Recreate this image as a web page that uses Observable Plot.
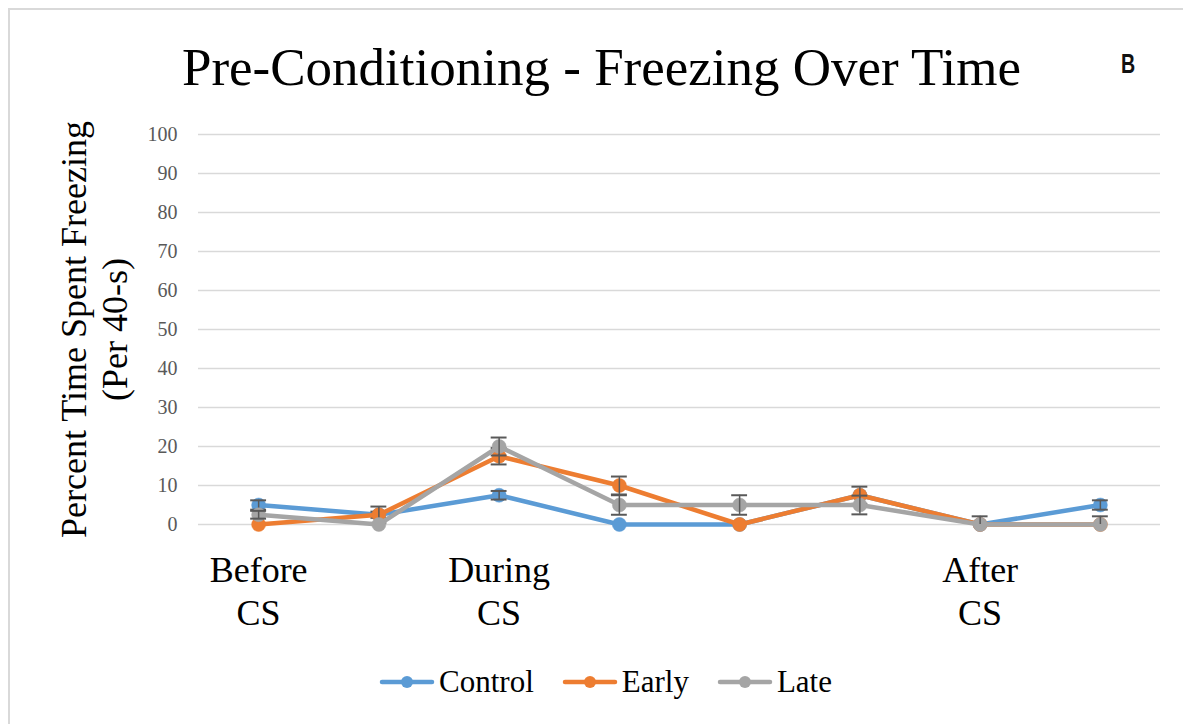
<!DOCTYPE html>
<html><head><meta charset="utf-8">
<script src="https://cdn.jsdelivr.net/npm/d3@7"></script>
<script src="https://cdn.jsdelivr.net/npm/@observablehq/plot@0.6"></script>
<style>
html,body{margin:0;padding:0;background:#fff;}
#chart{position:relative;width:1183px;height:724px;overflow:hidden;background:#fff;font-family:"Liberation Serif","Times New Roman",serif;}
#frame{position:absolute;left:8px;top:8px;width:1300px;height:900px;border-top:2px solid #d9d9d9;border-left:2px solid #d9d9d9;}
#title{position:absolute;left:0;top:41px;width:1183px;box-sizing:border-box;padding-left:20px;text-align:center;font-size:53px;line-height:53px;color:#000;white-space:nowrap;}
#panel{position:absolute;left:1121px;top:50px;font-family:"Liberation Sans",Arial,sans-serif;font-weight:bold;font-size:28px;line-height:28px;color:#111;transform:scaleX(0.7);transform-origin:left center;}
#plot{position:absolute;left:0;top:0;}
#plot svg text{font-family:"Liberation Serif","Times New Roman",serif;}
#legend{position:absolute;left:0;top:662px;width:1183px;height:40px;box-sizing:border-box;padding-left:28px;display:flex;justify-content:center;align-items:center;}
.item{display:flex;align-items:center;margin:0 14px;}
.item span{font-size:31px;line-height:40px;color:#000;margin-left:4px;}
</style>
</head><body>
<div id="chart">
  <div id="frame"></div>
  <div id="plot"></div>
  <div id="title">Pre-Conditioning - Freezing Over Time</div>
  <div id="panel">B</div>
  <div id="legend"></div>
</div>
<script>
// ---- data ----
const xIndex = [1, 2, 3, 4, 5, 6, 7, 8];
const xLabels = ["Before\nCS", "", "During\nCS", "", "", "", "After\nCS", ""];
const yTicks = [0, 10, 20, 30, 40, 50, 60, 70, 80, 90, 100];
const seriesNames = ["Control", "Early", "Late"];
const seriesColors = ["#5B9BD5", "#ED7D31", "#A5A5A5"];
const controlValues = [5, 2.5, 7.5, 0, 0, 7.5, 0, 5];
const earlyValues = [0, 2.5, 17.5, 10, 0, 7.5, 0, 0];
const lateValues = [2.5, 0, 20, 5, 5, 5, 0, 0];
const controlErr = [1.2, 0.8, 1.1, 0, 0, 0, 0, 1.2];
const earlyErr = [0, 2.1, 2.1, 2.3, 0, 2.2, 0, 0];
const lateErr = [1.0, 0, 2.3, 2.5, 2.5, 2.4, 2.1, 2.1];
const yLabel = "Percent Time Spent Freezing\n(Per 40-s)";

const serif = "'Liberation Serif','Times New Roman',serif";
const seriesValues = [controlValues, earlyValues, lateValues];
const seriesErrs = [controlErr, earlyErr, lateErr];
const capHalf = 0.066;
const errColor = "#595959";

const marks = [
  Plot.gridY(yTicks, {stroke: "#d9d9d9", strokeOpacity: 1, strokeWidth: 1.3}),
  Plot.axisY(yTicks, {tickSize: 0, tickPadding: 21, fontSize: 20, fontFamily: serif, color: "#595959", label: null}),
  Plot.axisX(xIndex, {tickSize: 0, tickPadding: 27, fontSize: 36, fontFamily: serif, lineHeight: 1.19,
    tickFormat: i => xLabels[i - 1], label: null, color: "#000"}),
  Plot.text([yLabel], {frameAnchor: "left", textAnchor: "middle", lineAnchor: "middle", rotate: -90, dx: -105,
    fontSize: 36, fontFamily: serif, lineHeight: 1.14, fill: "#000"})
];

seriesNames.forEach((name, s) => {
  const rows = xIndex.map((x, i) => ({series: name, x, y: seriesValues[s][i], e: seriesErrs[s][i]}));
  const errRows = rows.filter(d => d.e > 0);
  const color = seriesColors[s];
  marks.push(Plot.line(rows, {x: "x", y: "y", stroke: color, strokeWidth: 4.5, strokeLinejoin: "round", strokeLinecap: "round"}));
  marks.push(Plot.dot(rows, {x: "x", y: "y", r: 7, fill: color, stroke: color, strokeWidth: 0.5}));
  marks.push(Plot.ruleX(errRows, {x: "x", y1: d => Math.max(0, d.y - d.e), y2: d => d.y + d.e, stroke: errColor, strokeWidth: 1.5}));
  marks.push(Plot.ruleY(errRows, {y: d => d.y + d.e, x1: d => d.x - capHalf, x2: d => d.x + capHalf, stroke: errColor, strokeWidth: 2}));
  marks.push(Plot.ruleY(errRows.filter(d => d.y - d.e >= 0), {y: d => d.y - d.e, x1: d => d.x - capHalf, x2: d => d.x + capHalf, stroke: errColor, strokeWidth: 2}));
});

const chart = Plot.plot({
  width: 1183,
  height: 724,
  marginLeft: 198,
  marginRight: 23,
  marginTop: 134,
  marginBottom: 200,
  x: {type: "linear", domain: [0.5, 8.5]},
  y: {domain: [0, 100]},
  style: {fontFamily: serif, background: "transparent", overflow: "visible"},
  marks
});
document.getElementById("plot").appendChild(chart);

// legend
const legend = document.getElementById("legend");
seriesNames.forEach((name, s) => {
  const item = document.createElement("div");
  item.className = "item";
  item.innerHTML = `<svg width="56" height="16"><line x1="3" x2="53" y1="8" y2="8" stroke="${seriesColors[s]}" stroke-width="4.5" stroke-linecap="round"/><circle cx="28" cy="8" r="6" fill="${seriesColors[s]}"/></svg><span>${name}</span>`;
  legend.appendChild(item);
});
</script>
</body></html>
